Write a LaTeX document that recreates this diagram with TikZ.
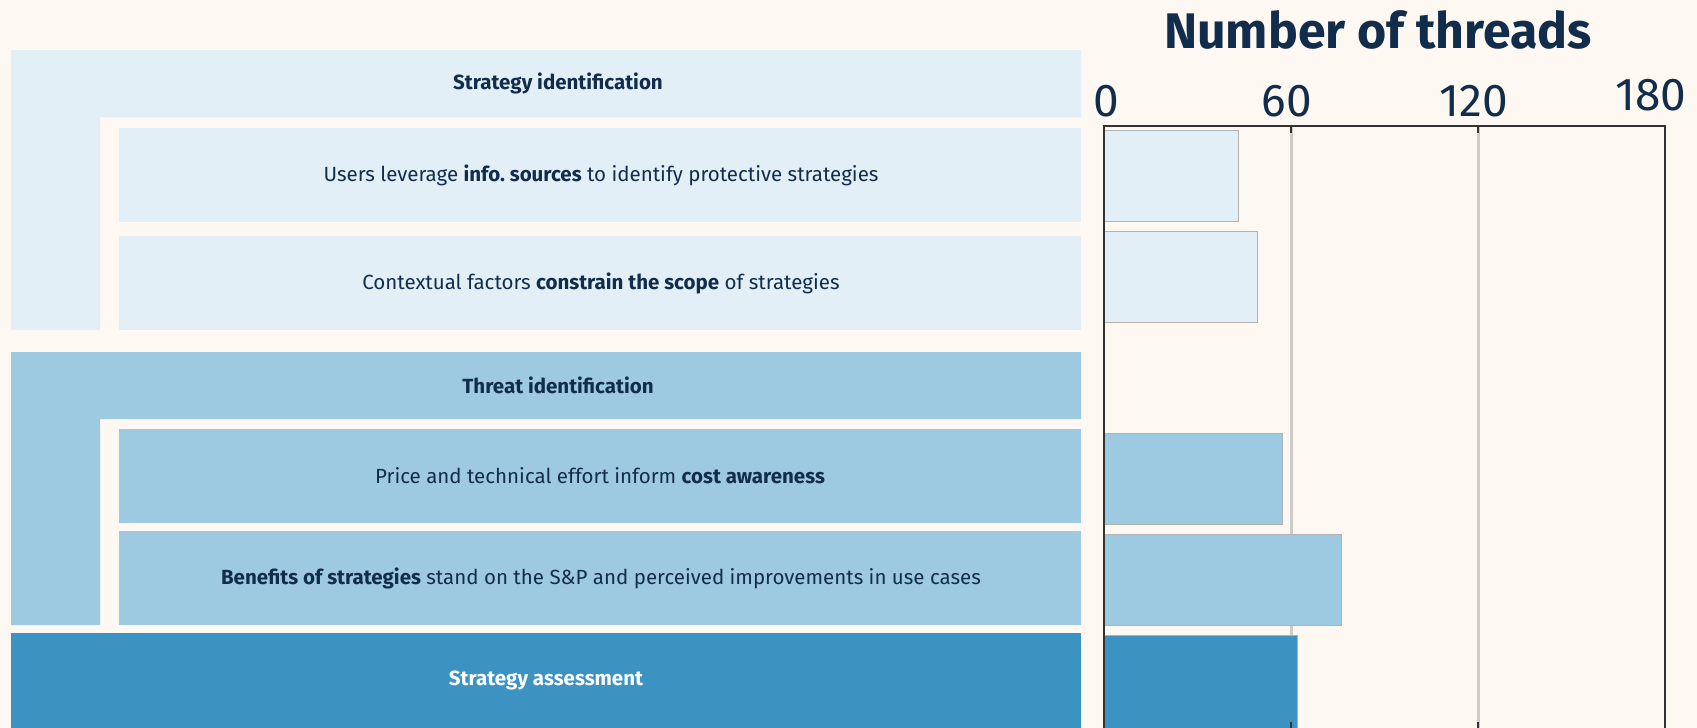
\documentclass[tikz,border=0pt]{standalone}
\usepackage{fontspec}
\setmainfont{Fira Sans}
\usepackage{xcolor}
\definecolor{paper}{HTML}{FDF8F2}
\definecolor{lightblue}{HTML}{E2EFF7}
\definecolor{midblue}{HTML}{9ECAE1}
\definecolor{darkblue}{HTML}{3C93C2}
\definecolor{navy}{HTML}{122D4B}
\definecolor{axisgray}{HTML}{333333}
\definecolor{gridgray}{HTML}{CFCCC8}

\begin{document}
\begin{tikzpicture}[x=1pt, y=-1pt]
                % pixel coordinates, y runs down; axis: 0 at x=1104, 180 at x=1665
                \tikzstyle{every node}=[text=navy, inner sep=0pt]
                \tikzstyle{boxtext}=[font=\fontsize{20.5}{24}\selectfont]
                \tikzstyle{headtext}=[font=\fontsize{20.5}{24}\selectfont\bfseries]
                \tikzstyle{ticklabel}=[font=\fontsize{46}{48}\selectfont, anchor=base]
                \tikzstyle{bar}=[draw=black!30, line width=1pt]
                \fill[paper] (0,0) rectangle (1697,728);
                \useasboundingbox (0,0) rectangle (1697,728);
                % group: strategy identification
                \fill[lightblue] (11,50) -- (1081,50) -- (1081,117) -- (100,117) -- (100,330) -- (11,330) -- cycle;
                \fill[lightblue] (119,128) rectangle (1081,222);
                \fill[lightblue] (119,236) rectangle (1081,330);
                \node[headtext] (hdrA) at (558,83) {Strategy identification};
                \node[boxtext] (srcA) at (601,175) {Users leverage \textbf{info.\ sources} to identify protective strategies};
                \node[boxtext] (scopeA) at (601,283) {Contextual factors \textbf{constrain the scope} of strategies};
                % group: threat identification
                \fill[midblue] (11,352) -- (1081,352) -- (1081,419) -- (100,419) -- (100,625) -- (11,625) -- cycle;
                \fill[midblue] (119,429) rectangle (1081,523);
                \fill[midblue] (119,531) rectangle (1081,625);
                \node[headtext] (hdrB) at (558,385) {Threat identification};
                \node[boxtext] (costB) at (600,476) {Price and technical effort inform \textbf{cost awareness}};
                \node[boxtext] (benefitB) at (601,578) {\textbf{Benefits of strategies} stand on the S\&P and perceived improvements in use cases};
                % strategy assessment
                \fill[darkblue] (11,633) rectangle (1081,728);
                \node[headtext, text=white] (hdrC) at (546,680) {Strategy assessment};
                % chart
                \node[font=\fontsize{50}{52}\selectfont\bfseries, anchor=base] (title) at (1378,48) {Number of threads};
                \node[ticklabel] (zero) at (1106,116) {0};
                \node[ticklabel] (sixty) at (1287,116) {60};
                \node[ticklabel] (onetwenty) at (1474,116) {120};
                \node[ticklabel] (oneeighty) at (1651,110) {180};
                \foreach \gx in {1291,1478}
                    \draw[gridgray, line width=3pt] (\gx,126) -- (\gx,728);
                \foreach \val/\top/\bot/\col in {43.2/130/221/lightblue, 49.1/231/322/lightblue, 57.3/433/524/midblue, 76.3/534/625/midblue, 62.1/635/728/darkblue}
                    \filldraw[bar, fill=\col] (1104,\top) rectangle ({1104+\val*3.117},\bot);
                \draw[axisgray, line width=2.5pt] (1104,728) -- (1104,126) -- (1665,126) -- (1665,728);
                \foreach \gx in {1291,1478} {
                    \draw[axisgray, line width=2pt] (\gx,126) -- (\gx,133);
                    \draw[axisgray, line width=2pt] (\gx,722) -- (\gx,728);
                }
\end{tikzpicture}
\end{document}
